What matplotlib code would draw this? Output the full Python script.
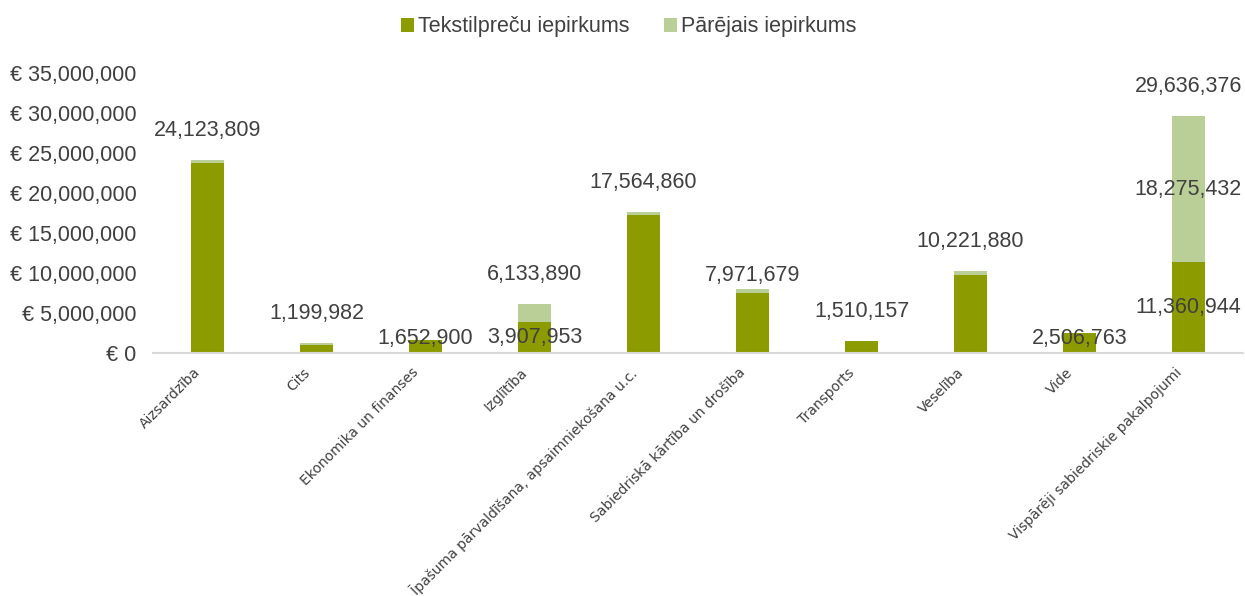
import matplotlib.pyplot as plt
import numpy as np

plt.rcParams['font.family'] = ['Liberation Sans', 'DejaVu Sans']

categories = ['Aizsardzība', 'Cits', 'Ekonomika un finanses', 'Izglītība',
              'Īpašuma pārvaldīšana, apsaimniekošana u.c.',
              'Sabiedriskā kārtība un drošība', 'Transports', 'Veselība',
              'Vide', 'Vispārēji sabiedriskie pakalpojumi']
# textile purchases and other purchases (EUR)
textile = [23760000, 1000000, 1652900, 3907953, 17240000, 7470000,
           1510157, 9810000, 2506763, 11360944]
totals = [24123809, 1199982, 1652900, 6133890, 17564860, 7971679,
          1510157, 10221880, 2506763, 29636376]
other = [t - x for t, x in zip(totals, textile)]

# which labels are shown in the original chart
show_total = [True, True, False, True, True, True, True, True, False, True]
show_textile = [False, False, True, True, False, False, False, False, True, True]
show_other = [False] * 9 + [True]

dark = '#8C9C00'
light = '#BACF97'
txt = '#404040'
fs = 15.5

fig = plt.figure(figsize=(12.45, 5.96), dpi=100)
ax = fig.add_axes([153/1245, 1 - 353/596, 1090/1245, 280/596])

x = np.arange(len(categories))
w = 0.31
ax.bar(x, textile, w, color=dark, label='Tekstilpreču iepirkums')
ax.bar(x, other, w, bottom=textile, color=light, label='Pārējais iepirkums')

for i in range(len(categories)):
    if show_total[i]:
        off = 10 if i == 5 else 21.5
        ax.annotate(f'{totals[i]:,}', (x[i], totals[i]), xytext=(0, off),
                    textcoords='offset points', ha='center', va='center',
                    fontsize=fs, color=txt)
    if show_textile[i]:
        yc = max(textile[i] / 2, 1800000)
        ax.text(x[i], yc, f'{textile[i]:,}', ha='center', va='center',
                fontsize=fs, color=txt)
    if show_other[i]:
        ax.text(x[i], textile[i] + other[i] / 2, f'{other[i]:,}',
                ha='center', va='center', fontsize=fs, color=txt)

    # category label, rotated like the original
    ax.annotate(categories[i], (x[i], 0), xycoords=('data', 'axes fraction'),
                xytext=(-10, -9), textcoords='offset points', rotation=45,
                ha='right', va='top', rotation_mode='anchor',
                fontsize=10, color=txt, family='DejaVu Sans',
                annotation_clip=False)

ax.set_xlim(-0.5, len(categories) - 0.5)
ax.set_ylim(0, 35000000)
ax.set_yticks(np.arange(0, 35000001, 5000000))
ax.set_yticklabels(['€ 0'] + [f'€ {v:,}' for v in range(5000000, 35000001, 5000000)],
                   fontsize=fs, color=txt)
ax.set_xticks(x)
ax.set_xticklabels([])
ax.tick_params(axis='both', length=0)
ax.tick_params(axis='y', pad=12)
for s in ['top', 'right', 'left']:
    ax.spines[s].set_visible(False)
ax.spines['bottom'].set_color('#D9D9D9')
ax.spines['bottom'].set_linewidth(1.5)

fig.legend(loc='upper center', bbox_to_anchor=(0.505, 1.005), ncol=2, frameon=False,
           fontsize=fs, handlelength=0.6, handleheight=0.6, handletextpad=0.2,
           columnspacing=1.6, labelcolor=txt)

fig.savefig('out.png', dpi=100)
